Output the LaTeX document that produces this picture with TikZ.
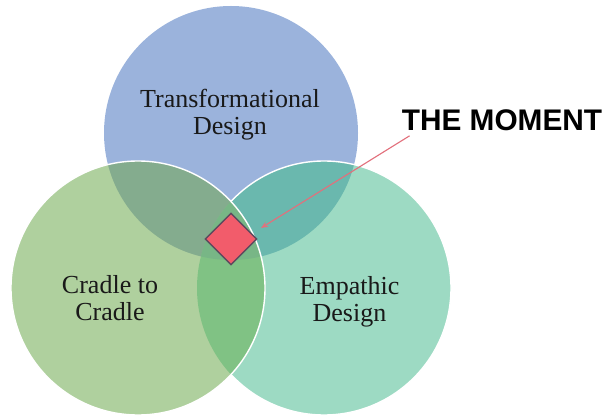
\documentclass[tikz,border=0pt]{standalone}
\usepackage{fontspec}
\setmainfont{Liberation Serif}
\newfontfamily\markerfont{Liberation Sans}
\usepackage{xcolor}
\usetikzlibrary{shapes.geometric, arrows.meta, positioning, calc}
\definecolor{topblue}{HTML}{9BB3DC}
\definecolor{leftgreen}{HTML}{AFD09E}
\definecolor{rightteal}{HTML}{9DDAC3}
\definecolor{bluegreen}{HTML}{84AC8E}
\definecolor{blueteal}{HTML}{6AB8AE}
\definecolor{greenteal}{HTML}{80C284}
\definecolor{allthree}{HTML}{78B686}
\definecolor{spotred}{HTML}{F25C6B}
\definecolor{spotedge}{HTML}{5E4A5E}
\definecolor{pointerred}{HTML}{E2707C}
\newcommand{\setrad}{3.175}
\tikzset{
  ring/.style={draw=white, line width=1pt},
  setlabel/.style={align=center, inner sep=0pt, text=black!90, font=\fontsize{18.5}{19.2}\selectfont},
  spot/.style={diamond, draw=spotedge, fill=spotred, line width=1pt, aspect=1, minimum size=1.3cm, inner sep=0pt},
  note/.style={inner sep=0pt, font=\markerfont\bfseries\fontsize{21.2}{22}\selectfont},
  pointer/.style={-{Stealth[length=5pt, width=4pt]}, pointerred, line width=0.8pt},
}

\begin{document}
\begin{tikzpicture}
  \useasboundingbox (0,0) rectangle (15.1,10.475);
  \coordinate (tc) at (5.775,7.15);
  \coordinate (lc) at (3.45,3.275);
  \coordinate (rc) at (8.1,3.275);
  % top set
  \fill[topblue] (tc) circle (\setrad);
  % right set, with its overlap on the top one
  \fill[rightteal] (rc) circle (\setrad);
  \begin{scope}
    \clip (tc) circle (\setrad);
    \fill[blueteal] (rc) circle (\setrad);
  \end{scope}
  \draw[ring] (rc) circle (\setrad);
  % left set on top of both
  \fill[leftgreen] (lc) circle (\setrad);
  \begin{scope}
    \clip (lc) circle (\setrad);
    \fill[bluegreen] (tc) circle (\setrad);
    \fill[greenteal] (rc) circle (\setrad);
    \clip (tc) circle (\setrad);
    \fill[allthree] (rc) circle (\setrad);
  \end{scope}
  \draw[ring] (lc) circle (\setrad);
  % labels
  \node[setlabel] (transform) at (5.75,7.6125) {Transformational\\Design};
  \node[setlabel] (cradle) at (2.75,3.0125) {Cradle to\\Cradle};
  \node[setlabel] (empathic) at (8.7375,2.9375) {Empathic\\Design};
  \node[spot] (moment) at (5.775,4.5) {};
  \node[note] (thenote) at (12.55,7.475) {THE MOMENT};
  \coordinate (tip) at (6.525,4.775);
  \draw[pointer] ([shift={(0.2,-0.125)}]thenote.south west) -- (tip);
\end{tikzpicture}
\end{document}
